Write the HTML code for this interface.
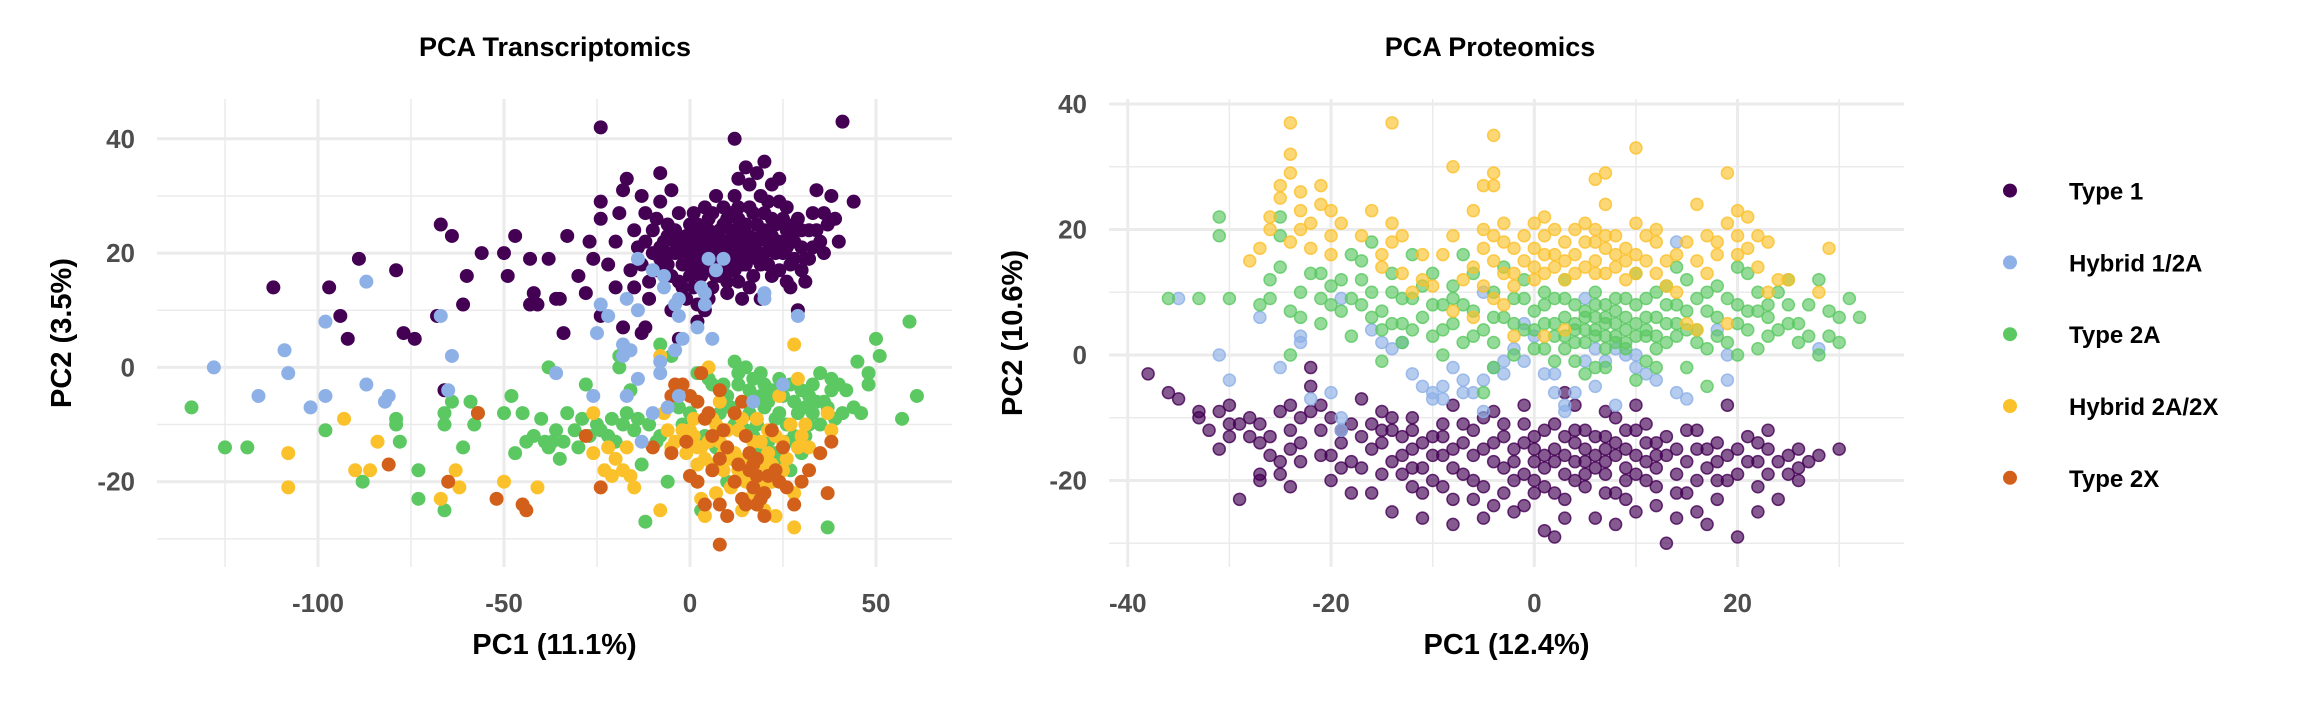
<!DOCTYPE html>
<html><head><meta charset="utf-8"><style>
html,body{margin:0;padding:0;background:#fff;}
svg{display:block;font-family:"Liberation Sans",Arial,sans-serif;}
</style></head><body>
<svg id="chart" width="2303" height="708" viewBox="0 0 2303 708" xmlns="http://www.w3.org/2000/svg">
<rect width="2303" height="708" fill="#fff"/>
<g id="left"></g>
<g id="right"></g>
<g id="legend"></g>
</svg>
<script>
const groups = ["Type 1","Hybrid 1/2A","Type 2A","Hybrid 2A/2X","Type 2X"];
const groupColors = ["#440154","#8DB0E6","#5BC862","#FBC12B","#D2601A"];
const leftXTicks = [-100,-50,0,50];
const leftYTicks = [40,20,0,-20];
const rightXTicks = [-40,-20,0,20];
const rightYTicks = [40,20,0,-20];

const tType1 = [[-24,42],[12,40],[41,43],[-112,14],[-97,14],[-94,9],[-92,5],[-89,19],[-79,17],[-67,25],[-64,23],[-56,20],[-60,16],[-61,11],[-77,6],[-74,5],[-68,9],[-50,20],[-49,16],[-47,23],[-43,19],[-42,13],[-43,11],[-41,11],[-38,19],[-36,12],[-35,12],[-34,6],[-33,23],[-28,13],[-26,19],[-24,9],[-24,26],[-24,29],[-18,31],[-19,27],[-17,33],[-13,30],[-8,34],[-8,29],[-5,31],[-6,25],[-20,14],[-22,18],[-16,17],[-14,21],[-12,22],[-10,24],[-11,12],[-12,7],[-13,6],[-18,7],[-3,5],[-5,10],[2,8],[5,12],[0,16],[3,18],[5,22],[8,24],[10,26],[12,30],[13,33],[15,35],[16,32],[18,34],[20,36],[22,32],[24,33],[26,28],[28,25],[30,21],[32,24],[34,31],[36,27],[38,30],[40,22],[44,29],[36,20],[29,10],[26,15],[22,16],[19,12],[16,14],[14,18],[11,17],[9,20],[7,19],[4,21],[2,23],[0,25],[-2,22],[-4,20],[-6,18],[-8,21],[-9,17],[-1,19],[1,21],[3,24],[6,27],[8,22],[10,20],[12,22],[14,24],[16,20],[18,22],[20,24],[22,26],[24,22],[26,21],[28,19],[30,17],[33,21],[35,22],[31,15],[8,16],[6,14],[4,10],[10,13],[13,15],[-66,-4],[-2,18],[2,20],[6,21],[4,17],[-4,24],[0,21],[7,23],[11,24],[15,22],[19,18],[23,20],[27,23],[-7,22],[-3,27],[5,26],[9,28],[17,27],[21,29],[25,26],[1,14],[-1,12],[12,19],[17,16],[3,20],[-6,20],
[-10,20],[-8,19],[-6,23],[-4,22],[-2,20],[0,19],[0,23],[1,17],[2,25],[3,22],[4,19],[5,17],[5,24],[6,19],[6,23],[7,21],[7,16],[8,18],[8,20],[9,22],[9,25],[10,18],[10,22],[11,20],[11,27],[12,17],[12,24],[13,21],[13,26],[14,20],[14,22],[15,18],[15,25],[16,23],[16,28],[17,21],[18,19],[18,25],[19,23],[19,30],[20,20],[20,27],[21,22],[21,18],[22,23],[23,25],[24,29],[25,20],[26,24],[27,18],[28,22],[29,26],[30,24],[32,19],[33,27],[34,24],[-3,15],[-1,23],[1,27],[3,16],[-5,16],[-7,18],[-11,15],[-13,18],[-15,14],[-9,26],[-2,14],[2,11],[14,12],[24,17],[27,14],[31,19],[37,25],[39,26],[4,28],[7,30],[13,28],[22,21],[10,15],[-20,22],[-15,24],[-12,27],[-30,16],[-27,22]];
const tHybrid12A = [[-128,0],[-109,3],[-108,-1],[-116,-5],[-98,8],[-98,-5],[-102,-7],[-87,-3],[-81,-5],[-82,-6],[-87,15],[-67,9],[-64,2],[-65,-4],[-36,-1],[-25,6],[-26,-5],[-24,11],[-22,9],[-17,12],[-14,10],[-18,2],[-18,4],[-16,3],[-14,-2],[-17,-5],[-13,-13],[-8,1],[-8,-1],[-10,-8],[-6,-7],[-3,-5],[-14,19],[-10,17],[-7,16],[-7,14],[-3,12],[-4,11],[-3,9],[2,7],[3,14],[4,11],[4,13],[5,19],[7,17],[9,19],[6,5],[-2,5],[-4,3],[20,13],[20,12],[29,9],[25,-3],[17,-6]];
const tType2A = [[-134,-7],[-119,-14],[-125,-14],[-98,-11],[-88,-20],[-79,-9],[-79,-10],[-78,-13],[-73,-18],[-73,-23],[-66,-10],[-66,-8],[-66,-25],[-64,-6],[-61,-14],[-59,-6],[-58,-10],[-57,-8],[-50,-8],[-48,-5],[-47,-15],[-45,-8],[-44,-13],[-42,-12],[-40,-9],[-39,-13],[-38,-14],[-37,-13],[-35,-16],[-33,-8],[-31,-11],[-30,-14],[-25,-10],[-22,-12],[-20,-13],[-17,-8],[-15,-11],[-13,-17],[-12,-27],[-8,-12],[-6,-20],[-3,-7],[3,-25],[-38,0],[-28,-3],[-19,0],[-16,-4],[-19,2],[-8,4],[-5,2],[12,1],[15,0],[17,-2],[20,-3],[22,-4],[25,-5],[30,-4],[32,-5],[35,-1],[38,-2],[38,-4],[42,-4],[44,-7],[46,-8],[48,-3],[48,-1],[51,2],[50,5],[59,8],[61,-5],[57,-9],[37,-28],[10,-5],[5,-2],[8,-8],[12,-10],[14,-6],[16,-8],[18,-10],[20,-7],[24,-8],[26,-10],[28,-12],[30,-15],[33,-8],[35,-10],[27,-18],[22,-20],[18,-15],[10,-20],[6,-3],[2,-1],[0,-8],[-2,-10],[4,-12],[7,-14],[14,-18],[28,-6],[40,-3],[45,1],[-4,-5],[9,-3],[13,-3],[19,-5],[23,-9],[31,-7],[36,-6],[11,-7],[15,-11],[21,-13],
[-36,-11],[-34,-13],[-29,-9],[-27,-12],[-24,-11],[-21,-9],[-18,-10],[-14,-9],[-11,-10],[-9,-13],[13,-1],[16,-4],[19,-1],[21,-6],[24,-2],[27,-3],[29,-8],[33,-3],[34,-6],[37,-7],[39,-9],[41,-8],[26,-13],[31,-12],[25,-16],[23,-15],[17,-12],[32,-10]];
const tHybrid2A2X = [[-93,-9],[-84,-13],[-108,-15],[-108,-21],[-86,-18],[-90,-18],[-63,-18],[-62,-21],[-67,-23],[-50,-20],[-41,-21],[-26,-8],[-26,-15],[-22,-14],[-23,-18],[-21,-19],[-18,-18],[-20,-16],[-17,-14],[-16,-19],[-15,-21],[-8,-25],[-7,-8],[-6,-11],[-4,-13],[-2,-11],[-1,-15],[-5,-14],[1,-9],[2,-17],[2,-20],[3,-23],[4,-26],[5,-13],[7,-10],[8,-6],[9,-18],[10,-14],[12,-20],[13,-11],[15,-16],[16,-23],[18,-9],[19,-13],[20,-17],[22,-20],[23,-26],[24,-5],[25,-13],[26,-16],[28,-22],[28,-28],[29,-14],[29,-2],[31,-10],[32,-14],[37,-8],[38,-11],[28,4],[-8,2],[5,0],[11,-21],[14,-25],[20,-25],[6,-17],[17,-19],[3,-14],[7,-22],[11,-16],[21,-11],
[1,-12],[4,-16],[6,-9],[8,-13],[10,-11],[12,-15],[14,-9],[15,-20],[17,-13],[19,-21],[21,-15],[23,-12],[25,-18],[27,-10],[30,-12],[2,-14],[0,-11],[13,-18],[9,-15],[22,-17]];
const tType2X = [[-57,-8],[-81,-17],[-65,-20],[-52,-23],[-45,-24],[-44,-25],[-28,-12],[-24,-21],[-10,-14],[-5,-15],[3,-1],[-4,-3],[-5,-5],[-2,-3],[0,-5],[2,-6],[4,-9],[5,-8],[6,-12],[8,-4],[8,-16],[9,-11],[10,-14],[12,-8],[14,-6],[15,-12],[16,-15],[17,-17],[18,-19],[20,-22],[22,-11],[23,-18],[24,-20],[25,-14],[26,-21],[28,-24],[30,-20],[32,-18],[35,-15],[38,-13],[37,-22],[12,-20],[14,-23],[10,-26],[8,-24],[0,-19],[4,-24],[18,-24],[20,-26],[8,-31],[2,-20],[6,-18],[-1,-13],[16,-18],[18,-16],[17,-21],[19,-23],[15,-24],[21,-19],[13,-17]];

const pType1 = [[-38,-3],[-36,-6],[-35,-7],[-33,-9],[-33,-10],[-31,-9],[-30,-11],[-30,-13],[-29,-23],[-31,-15],[-28,-10],[-27,-11],[-27,-14],[-27,-19],[-26,-13],[-25,-9],[-25,-17],[-24,-8],[-24,-12],[-23,-10],[-23,-14],[-22,-2],[-22,-5],[-21,-8],[-21,-12],[-20,-16],[-20,-20],[-19,-14],[-18,-11],[-17,-13],[-17,-18],[-16,-22],[-16,-15],[-15,-9],[-15,-12],[-14,-17],[-14,-25],[-13,-13],[-13,-19],[-12,-10],[-12,-15],[-11,-18],[-11,-26],[-10,-13],[-10,-20],[-9,-11],[-9,-16],[-8,-23],[-8,-27],[-7,-14],[-7,-19],[-6,-12],[-6,-16],[-5,-21],[-5,-10],[-4,-14],[-4,-24],[-3,-18],[-3,-11],[-2,-15],[-2,-20],[-1,-8],[-1,-24],[0,-13],[0,-17],[1,-21],[1,-28],[2,-11],[2,-15],[3,-19],[3,-23],[4,-14],[4,-17],[5,-12],[5,-21],[6,-16],[6,-26],[7,-13],[7,-19],[8,-10],[8,-22],[9,-15],[9,-18],[10,-12],[10,-25],[11,-17],[11,-20],[12,-14],[13,-30],[13,-16],[14,-19],[15,-12],[15,-22],[16,-15],[16,-25],[17,-18],[18,-14],[18,-20],[19,-8],[19,-16],[20,-19],[20,-29],[21,-13],[22,-17],[22,-21],[23,-15],[24,-17],[24,-23],[25,-19],[26,-15],[28,-16],[30,-15],[-27,-20],[-20,-10],[3,-6],[10,-8],[-8,-8],[-17,-7],[-1,-19],[1,-16],[3,-13],[5,-17],[7,-15],[-3,-22],[-14,-12],[-12,-18],[0,-22],[12,-18],
[-32,-12],[-29,-11],[-26,-16],[-24,-15],[-22,-9],[-21,-16],[-19,-12],[-18,-17],[-16,-11],[-15,-14],[-14,-10],[-13,-16],[-12,-12],[-11,-14],[-10,-16],[-9,-13],[-8,-15],[-8,-18],[-7,-11],[-6,-20],[-5,-15],[-4,-17],[-3,-13],[-2,-17],[-1,-14],[-1,-11],[0,-15],[0,-20],[1,-12],[1,-18],[2,-17],[2,-22],[3,-16],[4,-20],[4,-12],[5,-15],[5,-19],[6,-13],[6,-18],[7,-17],[7,-22],[8,-14],[8,-16],[9,-12],[9,-20],[10,-16],[10,-19],[11,-14],[12,-16],[12,-21],[13,-13],[14,-15],[14,-22],[15,-17],[16,-12],[16,-20],[17,-15],[18,-17],[19,-20],[20,-15],[21,-17],[22,-14],[23,-19],[25,-16],[26,-20],[27,-17],[-23,-17],[-19,-18],[-15,-19],[-11,-22],[-9,-21],[-6,-23],[-2,-25],[3,-26],[8,-27],[14,-26],[18,-23],[22,-25],[-18,-22],[-24,-21],[-25,-19],[4,-8],[-4,-9],[7,-9],[-28,-13],[-30,-8],[11,-11],[23,-12],[26,-18],[-12,-21],[-5,-26],[2,-29],[9,-23],[12,-24],[17,-27]];
const pHybrid12A = [[-35,9],[-27,6],[-31,0],[-30,-4],[-23,3],[-23,2],[-25,-2],[-20,-6],[-19,-10],[-19,-12],[-22,-7],[-19,9],[-16,4],[-15,2],[-14,1],[-12,-3],[-10,-6],[-10,-7],[-9,-5],[-9,-7],[-8,-2],[-7,-4],[-6,-6],[-5,-9],[-5,-4],[-4,-2],[-3,-1],[-2,1],[-1,5],[0,3],[1,-3],[2,-6],[3,-8],[3,-9],[4,-6],[5,-1],[6,-5],[8,1],[8,-8],[9,0],[10,-2],[12,-4],[14,-6],[15,-7],[18,4],[19,-4],[14,18],[28,1],[-5,10],[5,9],[19,0],[-11,-5],[-7,-6],[-3,-3],[-1,-1],[2,-3],[6,1],[7,-1],[10,0],[11,-3],[-13,2]];
const pType2A = [[-36,9],[-33,9],[-30,9],[-31,22],[-31,19],[-25,22],[-25,19],[-24,7],[-26,9],[-27,8],[-26,12],[-25,14],[-23,10],[-22,13],[-21,5],[-21,9],[-20,11],[-19,7],[-18,3],[-18,9],[-17,12],[-17,15],[-16,6],[-16,18],[-15,4],[-15,7],[-14,10],[-14,13],[-13,2],[-13,5],[-12,9],[-12,16],[-11,6],[-11,11],[-10,3],[-10,13],[-9,8],[-9,0],[-8,5],[-8,11],[-7,2],[-7,16],[-6,7],[-6,13],[-5,4],[-5,-6],[-4,10],[-4,2],[-3,6],[-3,14],[-2,0],[-2,9],[-1,4],[-1,12],[0,7],[0,1],[1,5],[1,10],[2,3],[2,-1],[3,6],[3,12],[4,2],[4,8],[5,4],[5,-3],[6,6],[6,10],[7,1],[7,3],[7,5],[8,7],[8,2],[9,4],[9,9],[10,3],[10,13],[11,6],[11,-1],[12,1],[12,10],[13,5],[14,3],[14,8],[15,-2],[15,12],[16,4],[16,9],[17,1],[17,-5],[18,6],[18,11],[19,2],[20,8],[20,0],[21,4],[21,13],[22,1],[22,7],[23,3],[24,10],[25,5],[26,2],[27,8],[28,12],[29,3],[30,6],[31,9],[32,6],[30,2],[28,0],[-24,0],[-4,-2],[-18,16],[10,-4],[6,-2],[-15,-1],[25,12],[14,14],[20,14],[4,4],[6,3],[8,5],[5,7],[7,8],[9,2],[3,3],[11,3],[13,2],[2,5],
[-23,6],[-20,8],[-17,8],[-14,5],[-12,4],[-10,8],[-8,9],[-6,3],[-4,6],[-2,5],[0,4],[1,8],[2,9],[3,1],[4,5],[5,2],[5,6],[6,4],[6,8],[7,6],[8,3],[8,9],[9,6],[9,1],[10,5],[10,8],[11,4],[11,9],[12,6],[12,3],[13,8],[14,5],[15,4],[15,7],[16,2],[17,7],[18,3],[19,9],[20,5],[21,7],[22,10],[23,6],[24,4],[25,8],[26,5],[27,3],[29,7],[-19,12],[-13,9],[-7,8],[-1,9],[3,9],[-9,4],[-16,10],[-21,13],[13,11],[17,10],[23,8],[1,1],[4,-1],[7,-2],[12,-2]];
const pHybrid2A2X = [[-24,37],[-14,37],[-24,32],[-24,29],[-25,27],[-21,27],[-23,26],[-25,25],[-23,23],[-20,23],[-26,22],[-22,21],[-26,20],[-20,19],[-24,18],[-22,17],[-28,15],[-20,16],[-16,23],[-14,21],[-13,19],[-14,18],[-15,16],[-15,14],[-13,13],[-12,10],[-11,12],[-10,11],[-8,30],[-8,19],[-6,23],[-5,27],[-4,27],[-4,35],[-4,29],[-5,20],[-4,19],[-3,18],[-2,17],[-1,15],[-3,13],[-2,11],[-5,11],[-4,9],[-3,8],[-6,6],[-2,3],[0,21],[1,22],[1,19],[2,16],[1,13],[0,12],[2,14],[3,18],[4,20],[4,16],[5,14],[6,20],[6,18],[7,19],[6,13],[7,29],[6,28],[7,24],[8,16],[9,15],[9,12],[10,21],[10,33],[11,19],[12,18],[13,15],[13,11],[14,10],[16,24],[17,19],[18,18],[19,21],[19,29],[20,16],[20,23],[21,22],[22,19],[22,14],[23,18],[24,12],[25,12],[29,17],[28,10],[15,5],[16,4],[19,5],[3,4],[1,3],[-8,7],[23,10],
[-5,17],[-4,15],[-3,21],[-2,13],[-1,19],[0,17],[0,14],[1,16],[2,20],[3,15],[3,12],[4,13],[5,18],[5,21],[6,15],[7,13],[7,17],[8,19],[8,14],[9,17],[10,16],[10,13],[11,15],[12,13],[12,20],[14,16],[15,18],[16,15],[17,13],[18,16],[20,19],[21,17],[-6,14],[-7,12],[-9,16],[-11,16],[-17,19],[-19,21],[-21,24],[-23,20],[-27,17]];
const pType2X = [];

const NS = "http://www.w3.org/2000/svg";
function mk(parent, tag, attrs, text){
  const e = document.createElementNS(NS, tag);
  for (const k in attrs) e.setAttribute(k, attrs[k]);
  if (text !== undefined) e.textContent = text;
  parent.appendChild(e);
  return e;
}
const lx = v => 690 + v * 3.72;
const ly = v => 367.4 - v * 5.715;
const rx = v => 1534.3 + v * 10.163;
const ry = v => 355 - v * 6.275;

function panel(g, xs, ys, xMajor, xMinor, yMajor, yMinor, box, title, xt, yt, titleX, ytitleX){
  for (const v of xMinor){
    const l = mk(g,'line',{x1:xs(v),x2:xs(v),y1:box.t,y2:box.b,stroke:'#ebebeb','stroke-width':1.5});
    
    
  }
  for (const v of yMinor){
    const l = mk(g,'line',{x1:box.l,x2:box.r,y1:ys(v),y2:ys(v),stroke:'#ebebeb','stroke-width':1.5});
    
    
  }
  for (const v of xMajor){
    const l = mk(g,'line',{x1:xs(v),x2:xs(v),y1:box.t,y2:box.b,stroke:'#ebebeb','stroke-width':3});
    
    
    const t = mk(g,'text',{x:xs(v),y:612,'text-anchor':'middle','font-size':26,'font-weight':'bold',fill:'#4d4d4d'}, String(v));
    
    
  }
  for (const v of yMajor){
    const l = mk(g,'line',{x1:box.l,x2:box.r,y1:ys(v),y2:ys(v),stroke:'#ebebeb','stroke-width':3});
    
    
    const t = mk(g,'text',{x:box.l-22,y:ys(v)+9,'text-anchor':'end','font-size':26,'font-weight':'bold',fill:'#4d4d4d'}, String(v));
    
    
  }
  const tt = mk(g,'text',{x:titleX,y:56,'text-anchor':'middle','font-size':27,'font-weight':'bold',fill:'#000'}, title);
  
  
  const xtl = mk(g,'text',{x:(box.l+box.r)/2,y:654,'text-anchor':'middle','font-size':29,'font-weight':'bold',fill:'#000'}, xt);
  
  
  const cy = (box.t+box.b)/2;
  const ytl = mk(g,'text',{x:ytitleX,y:cy,'text-anchor':'middle','font-size':29,'font-weight':'bold',fill:'#000',transform:`rotate(-90 ${ytitleX} ${cy})`}, yt);
  
  
}

const L = document.getElementById('left');
const R = document.getElementById('right');
panel(L, lx, ly, leftXTicks, [-125,-75,-25,25], leftYTicks, [30,10,-10,-30], {l:157,r:952,t:99,b:567},
  'PCA Transcriptomics','PC1 (11.1%)','PC2 (3.5%)',555,71);
panel(R, rx, ry, rightXTicks, [-30,-10,10,30], rightYTicks, [30,10,-10,-30], {l:1109,r:1904,t:99,b:567},
  'PCA Proteomics','PC1 (12.4%)','PC2 (10.6%)',1490,1022);

const leftSeries = [tType1,tHybrid12A,tType2A,tHybrid2A2X,tType2X];
const rightSeries = [pType1,pHybrid12A,pType2A,pHybrid2A2X,pType2X];
const leftOrder = [2,3,4,0,1];
const rightOrder = [0,1,2,3,4];
for (const i of leftOrder){
  for (const p of leftSeries[i]){
    const c = mk(L,'circle',{cx:lx(p[0]),cy:ly(p[1]),r:7,fill:groupColors[i]});
    
    
  }
}
for (const i of rightOrder){
  for (const p of rightSeries[i]){
    const c = mk(R,'circle',{cx:rx(p[0]),cy:ry(p[1]),r:6,fill:groupColors[i],'fill-opacity':0.65,stroke:groupColors[i],'stroke-opacity':0.8,'stroke-width':1.5});
    
    
  }
}
const G = document.getElementById('legend');
groups.forEach((name,i)=>{
  const y = 190.6 + i*71.8;
  const c = mk(G,'circle',{cx:2010,cy:y,r:7,fill:groupColors[i]});
  
  
  const t = mk(G,'text',{x:2069,y:y+9,'font-size':24,'font-weight':'bold',fill:'#000'}, name);
  
  
});
</script>
</body></html>
